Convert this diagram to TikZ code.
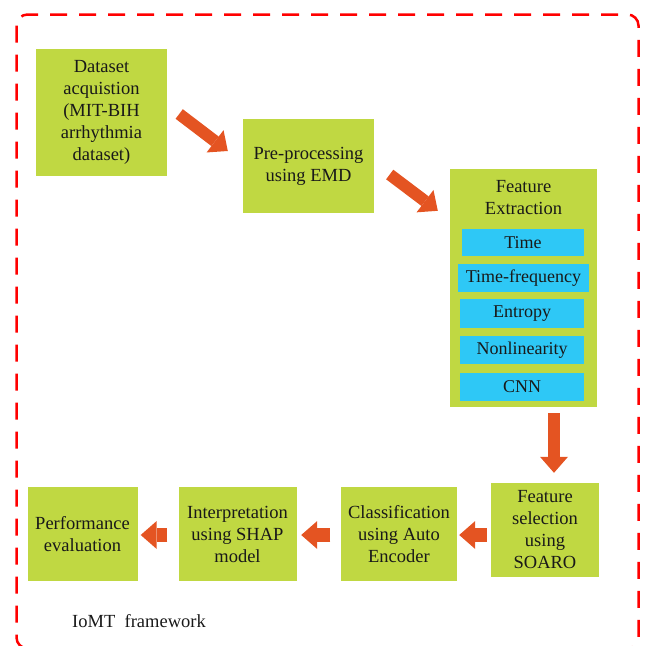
\documentclass[tikz,border=0pt]{standalone}
\usepackage{fontspec}
\setmainfont{Liberation Serif}
\usetikzlibrary{arrows.meta}

\definecolor{boxgreen}{RGB}{192,216,66}
\definecolor{subblue}{RGB}{46,200,246}
\definecolor{flowarrow}{RGB}{228,84,34}
\definecolor{framered}{RGB}{255,0,0}
\definecolor{ink}{RGB}{25,25,25}

\tikzset{
  stage/.style={fill=boxgreen, draw=none, inner sep=0pt, align=center,
    text=ink, font=\fontsize{18.5}{22}\selectfont},
  featbox/.style={fill=subblue, draw=none, inner sep=0pt, text=ink,
    font=\fontsize{18}{22}\selectfont},
  flow/.style={draw=flowarrow, line width=#1,
    -{Triangle[width=28pt,length=16pt,line width=0pt]}},
  flow/.default=13pt,
  caption/.style={text=ink, inner sep=0pt, font=\fontsize{18.5}{22}\selectfont},
}

\begin{document}
\begin{tikzpicture}[x=1pt,y=-1pt]
\useasboundingbox (0,0) rectangle (647,645);

% dashed outer frame of the IoMT framework
\draw[framered, line width=2.5pt, dash pattern=on 17pt off 12pt,
  rounded corners=11pt] (16.5,14.5) rectangle (638.5,648.5);

% processing stages
\node[stage, minimum width=131pt, minimum height=127pt] (ds) at (101.5,112.5)
  {Dataset\\acquistion\\(MIT-BIH\\arrhythmia\\dataset)};
\node[stage, minimum width=131pt, minimum height=94pt] (pp) at (308.5,166)
  {Pre-processing\\using EMD};
\node[stage, minimum width=147pt, minimum height=238pt] (fe) at (523.5,288) {};
\node[text=ink, inner sep=0pt, align=center, font=\fontsize{18.5}{22}\selectfont]
  (fetitle) at (523.5,198) {Feature\\Extraction};

% feature groups inside the extraction block
\node[featbox, minimum width=122pt, minimum height=27pt] (ftime) at (523,242.5) {Time};
\node[featbox, minimum width=131pt, minimum height=28pt] (ftf) at (523.5,278) {Time-frequency};
\node[featbox, minimum width=124pt, minimum height=29pt] (fent) at (522,313.5) {Entropy};
\node[featbox, minimum width=124pt, minimum height=28pt] (fnl) at (522,350) {Nonlinearity};
\node[featbox, minimum width=124pt, minimum height=28pt] (fcnn) at (522,387) {CNN};

\node[stage, minimum width=108pt, minimum height=94pt] (fs) at (545,530)
  {Feature\\selection\\using\\SOARO};
\node[stage, minimum width=116pt, minimum height=94pt] (cl) at (399,534)
  {Classification\\using Auto\\Encoder};
\node[stage, minimum width=118pt, minimum height=94pt] (ip) at (237.5,534)
  {Interpretation\\using SHAP\\model};
\node[stage, minimum width=110pt, minimum height=94pt] (pe) at (82.5,534)
  {Performance\\evaluation};

\node[caption, anchor=west] (cap) at (72,621) {IoMT\ \ framework};

% flow between the stages
\draw[flow=12pt] ([xshift=12pt,yshift=-1.5pt]ds.east) -- ([xshift=-15pt,yshift=15pt]pp.west);
\draw[flow=12pt] ([xshift=15.5pt,yshift=-8.5pt]pp.east) -- ([xshift=-12pt,yshift=-42pt]fe.north west);
\draw[flow=12pt] ([xshift=30.5pt,yshift=-6pt]fe.south) -- ([xshift=9pt,yshift=10pt]fs.north);
\draw[flow=14pt] ([xshift=-4pt,yshift=-5pt]fs.west) -- ([xshift=2pt,yshift=-1pt]cl.east);
\draw[flow=14pt] ([xshift=-10.5pt,yshift=-1pt]cl.west) -- ([xshift=4.5pt,yshift=-1pt]ip.east);
\draw[flow=14pt] ([xshift=-11pt,yshift=-1pt]ip.west) -- ([xshift=3pt,yshift=-1pt]pe.east);
\end{tikzpicture}
\end{document}
